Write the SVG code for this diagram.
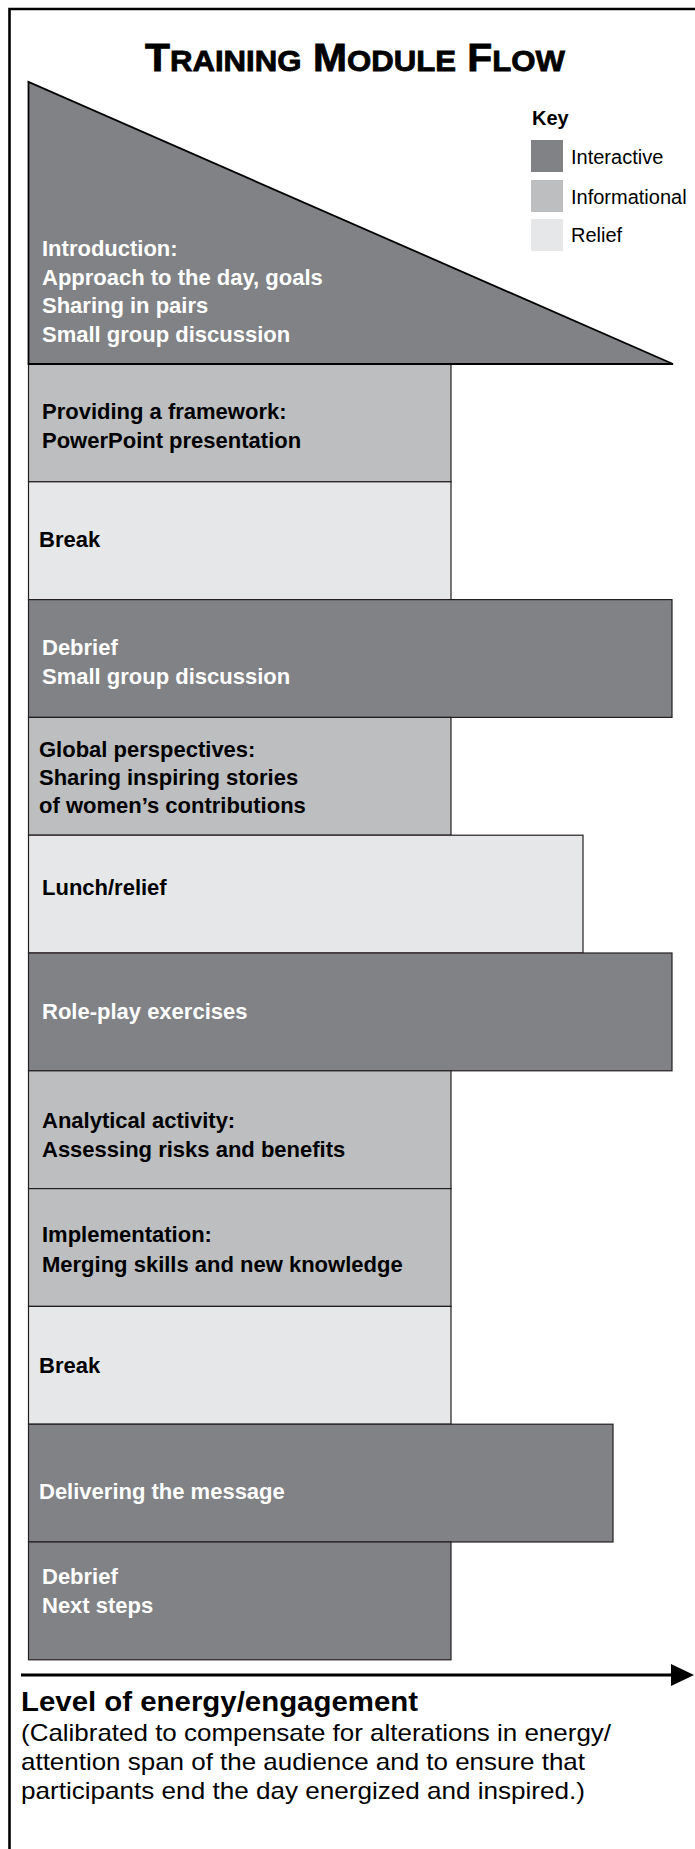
<svg xmlns="http://www.w3.org/2000/svg" width="695" height="1849" viewBox="0 0 695 1849">
<style>
.bg{fill:#ffffff}
.frame{fill:none;stroke:#000;stroke-width:2.6}
.int{fill:#808285;stroke:#231f20;stroke-width:1.2}
.inf{fill:#bcbec0;stroke:#231f20;stroke-width:1.2}
.rel{fill:#e6e7e8;stroke:#231f20;stroke-width:1.2}
.sw1{fill:#808285}
.sw2{fill:#bcbec0}
.sw3{fill:#e6e7e8}
.tw{font-family:"Liberation Sans",Arial,sans-serif;font-weight:bold;font-size:22px;fill:#ffffff}
.tb{font-family:"Liberation Sans",Arial,sans-serif;font-weight:bold;font-size:22px;fill:#000000}
.title{font-family:"Liberation Sans",Arial,sans-serif;font-weight:bold;fill:#000;stroke:#000;stroke-width:0.8}
.key{font-family:"Liberation Sans",Arial,sans-serif;font-size:20px;fill:#000}
.keyh{font-family:"Liberation Sans",Arial,sans-serif;font-weight:bold;font-size:20px;fill:#000}
.axis{font-family:"Liberation Sans",Arial,sans-serif;font-weight:bold;font-size:27px;fill:#000}
.para{font-family:"Liberation Sans",Arial,sans-serif;font-size:24px;fill:#000}
.ax{stroke:#000;stroke-width:3;fill:none}
</style>
<rect class="bg" x="0" y="0" width="695" height="1849"/>
<path class="frame" d="M9.5,1849 V9 H695"/>
<g id="title">
<text class="title" x="145" y="71" textLength="420" lengthAdjust="spacingAndGlyphs"><tspan font-size="38">T</tspan><tspan font-size="29">RAINING</tspan><tspan font-size="38"> M</tspan><tspan font-size="29">ODULE</tspan><tspan font-size="38"> F</tspan><tspan font-size="29">LOW</tspan></text>
</g>
<g id="key">
<text class="keyh" x="532" y="125">Key</text>
<rect class="sw1" x="531" y="140" width="32" height="32"/>
<text class="key" x="571" y="164">Interactive</text>
<rect class="sw2" x="531" y="180" width="32" height="32"/>
<text class="key" x="571" y="204">Informational</text>
<rect class="sw3" x="531" y="219" width="32" height="32"/>
<text class="key" x="571" y="242">Relief</text>
</g>
<g id="n01-providing">
<rect class="inf" x="28.5" y="364" width="422.5" height="117.8"/>
<text class="tb" x="42" y="419">Providing a framework:</text>
<text class="tb" x="42" y="448">PowerPoint presentation</text>
</g>
<g id="n02-break">
<rect class="rel" x="28.5" y="481.8" width="422.5" height="117.8"/>
<text class="tb" x="39" y="547">Break</text>
</g>
<g id="n03-debrief">
<rect class="int" x="28.5" y="599.6" width="643.5" height="117.8"/>
<text class="tw" x="42" y="655">Debrief</text>
<text class="tw" x="42" y="684">Small group discussion</text>
</g>
<g id="n04-global">
<rect class="inf" x="28.5" y="717.4" width="422.5" height="117.8"/>
<text class="tb" x="39" y="757">Global perspectives:</text>
<text class="tb" x="39" y="785">Sharing inspiring stories</text>
<text class="tb" x="39" y="813">of women’s contributions</text>
</g>
<g id="n05-lunch">
<rect class="rel" x="28.5" y="835.2" width="554.5" height="117.8"/>
<text class="tb" x="42" y="895">Lunch/relief</text>
</g>
<g id="n06-roleplay">
<rect class="int" x="28.5" y="953" width="643.5" height="117.8"/>
<text class="tw" x="42" y="1019">Role-play exercises</text>
</g>
<g id="n07-analytical">
<rect class="inf" x="28.5" y="1070.8" width="422.5" height="117.8"/>
<text class="tb" x="42" y="1128">Analytical activity:</text>
<text class="tb" x="42" y="1157">Assessing risks and benefits</text>
</g>
<g id="n08-implementation">
<rect class="inf" x="28.5" y="1188.6" width="422.5" height="117.8"/>
<text class="tb" x="42" y="1242">Implementation:</text>
<text class="tb" x="42" y="1272">Merging skills and new knowledge</text>
</g>
<g id="n09-break">
<rect class="rel" x="28.5" y="1306.4" width="422.5" height="117.8"/>
<text class="tb" x="39" y="1373">Break</text>
</g>
<g id="n10-delivering">
<rect class="int" x="28.5" y="1424.2" width="584.5" height="117.8"/>
<text class="tw" x="39" y="1499">Delivering the message</text>
</g>
<g id="n11-nextsteps">
<rect class="int" x="28.5" y="1542" width="422.5" height="117.8"/>
<text class="tw" x="42" y="1584">Debrief</text>
<text class="tw" x="42" y="1613">Next steps</text>
</g>
<g id="n00-introduction">
<polygon points="28.5,82 28.5,364 673,364" fill="#808285" stroke="#000" stroke-width="1.8" stroke-linejoin="miter"/>
<text class="tw" x="42" y="256">Introduction:</text>
<text class="tw" x="42" y="284.5">Approach to the day, goals</text>
<text class="tw" x="42" y="313">Sharing in pairs</text>
<text class="tw" x="42" y="341.5">Small group discussion</text>
</g>
<g id="connectors">
<line class="ax" x1="21" y1="1675" x2="673" y2="1675"/>
<polygon points="671,1664 694,1675 671,1686" fill="#000"/>
</g>
<g id="axis-label">
<text class="axis" x="21" y="1711" textLength="397" lengthAdjust="spacingAndGlyphs">Level of energy/engagement</text>
<text class="para" x="21" y="1741" textLength="590" lengthAdjust="spacingAndGlyphs">(Calibrated to compensate for alterations in energy/</text>
<text class="para" x="21" y="1770" textLength="564" lengthAdjust="spacingAndGlyphs">attention span of the audience and to ensure that</text>
<text class="para" x="21" y="1799" textLength="564" lengthAdjust="spacingAndGlyphs">participants end the day energized and inspired.)</text>
</g>
</svg>
